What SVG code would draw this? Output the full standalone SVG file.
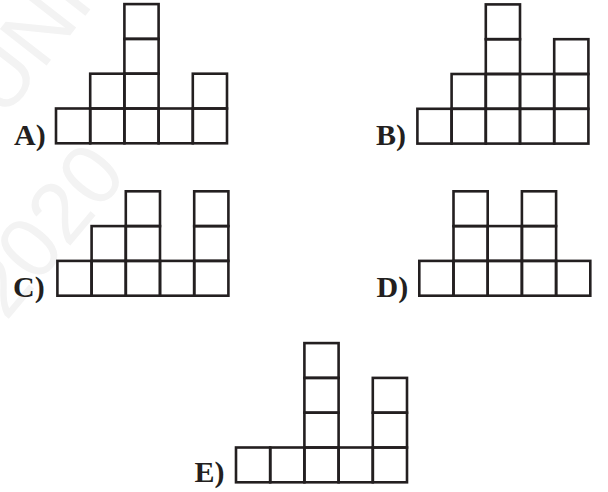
<svg xmlns="http://www.w3.org/2000/svg" xmlns:xlink="http://www.w3.org/1999/xlink" width="608" height="492" viewBox="0 0 608 492">
<style>
.sq{fill:none;stroke:#231f20;stroke-width:2.6}
.lbl{font-family:"Liberation Serif","Times New Roman",serif;font-weight:bold;font-size:30px;fill:#231f20}
.wm{font-family:"Liberation Sans",Arial,sans-serif;font-size:86px;fill:#f3f3f3}
</style>
<defs>
<rect id="s" class="sq" width="34.2" height="34.8"/>
</defs>
<rect width="608" height="492" fill="#fff"/>
<g id="watermark">
<text class="wm" transform="translate(4,120) rotate(-52)">UNI</text>
<text class="wm" transform="translate(6,322) rotate(-50)">2020</text>
</g>
<g id="optionA">
<use xlink:href="#s" x="56" y="108.5"/>
<use xlink:href="#s" x="90.2" y="108.5"/><use xlink:href="#s" x="90.2" y="73.7"/>
<use xlink:href="#s" x="124.4" y="108.5"/><use xlink:href="#s" x="124.4" y="73.7"/><use xlink:href="#s" x="124.4" y="38.9"/><use xlink:href="#s" x="124.4" y="4.1"/>
<use xlink:href="#s" x="158.6" y="108.5"/>
<use xlink:href="#s" x="192.8" y="108.5"/><use xlink:href="#s" x="192.8" y="73.7"/>
<text class="lbl" x="14" y="144.5">A)</text>
</g>
<g id="optionB">
<use xlink:href="#s" x="417.4" y="108.8"/>
<use xlink:href="#s" x="451.6" y="108.8"/><use xlink:href="#s" x="451.6" y="74"/>
<use xlink:href="#s" x="485.8" y="108.8"/><use xlink:href="#s" x="485.8" y="74"/><use xlink:href="#s" x="485.8" y="39.2"/><use xlink:href="#s" x="485.8" y="4.4"/>
<use xlink:href="#s" x="520" y="108.8"/><use xlink:href="#s" x="520" y="74"/>
<use xlink:href="#s" x="554.2" y="108.8"/><use xlink:href="#s" x="554.2" y="74"/><use xlink:href="#s" x="554.2" y="39.2"/>
<text class="lbl" x="376" y="144.5">B)</text>
</g>
<g id="optionC">
<use xlink:href="#s" x="57.4" y="260.9"/>
<use xlink:href="#s" x="91.6" y="260.9"/><use xlink:href="#s" x="91.6" y="226.1"/>
<use xlink:href="#s" x="125.8" y="260.9"/><use xlink:href="#s" x="125.8" y="226.1"/><use xlink:href="#s" x="125.8" y="191.3"/>
<use xlink:href="#s" x="160" y="260.9"/>
<use xlink:href="#s" x="194.2" y="260.9"/><use xlink:href="#s" x="194.2" y="226.1"/><use xlink:href="#s" x="194.2" y="191.3"/>
<text class="lbl" x="13" y="297">C)</text>
</g>
<g id="optionD">
<use xlink:href="#s" x="419.3" y="260.9"/>
<use xlink:href="#s" x="453.5" y="260.9"/><use xlink:href="#s" x="453.5" y="226.1"/><use xlink:href="#s" x="453.5" y="191.3"/>
<use xlink:href="#s" x="487.7" y="260.9"/><use xlink:href="#s" x="487.7" y="226.1"/>
<use xlink:href="#s" x="521.9" y="260.9"/><use xlink:href="#s" x="521.9" y="226.1"/><use xlink:href="#s" x="521.9" y="191.3"/>
<use xlink:href="#s" x="556.1" y="260.9"/>
<text class="lbl" x="376.5" y="296.5">D)</text>
</g>
<g id="optionE">
<use xlink:href="#s" x="236" y="447.5"/>
<use xlink:href="#s" x="270.2" y="447.5"/>
<use xlink:href="#s" x="304.4" y="447.5"/><use xlink:href="#s" x="304.4" y="412.7"/><use xlink:href="#s" x="304.4" y="377.9"/><use xlink:href="#s" x="304.4" y="343.1"/>
<use xlink:href="#s" x="338.6" y="447.5"/>
<use xlink:href="#s" x="372.8" y="447.5"/><use xlink:href="#s" x="372.8" y="412.7"/><use xlink:href="#s" x="372.8" y="377.9"/>
<text class="lbl" x="194.5" y="482">E)</text>
</g>
<g id="connectors"/>
</svg>
